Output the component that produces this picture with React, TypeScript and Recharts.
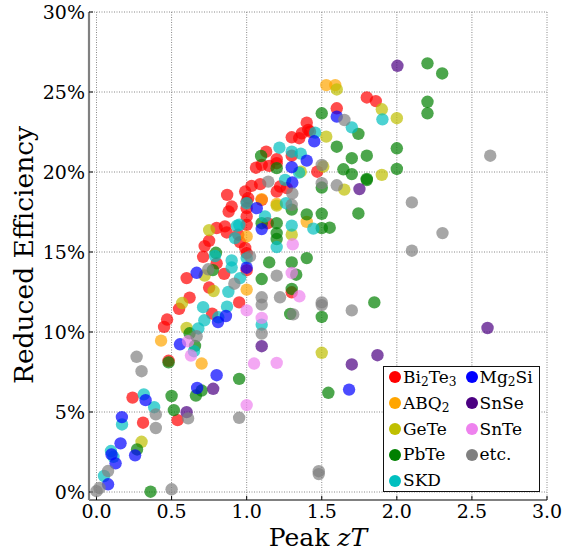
import React from 'react';
import { ScatterChart, Scatter, XAxis, YAxis, CartesianGrid, Legend, Label } from 'recharts';

const FONT = 'DejaVu Serif';

const X_TICKS = [0, 0.5, 1, 1.5, 2, 2.5, 3];
const Y_TICKS = [0, 5, 10, 15, 20, 25, 30];

type P = [number, number];

const BI2TE3: P[] = [
  [0.24, 5.9], [0.31, 4.33], [0.54, 4.49], [0.48, 8.2], [0.45, 10.32], [0.47, 10.78], [0.55, 11.45],
  [0.62, 12.15], [0.6, 13.37], [0.71, 14.7], [0.72, 15.37], [0.75, 15.7], [0.75, 12.78], [0.77, 11.15],
  [0.8, 16.5], [0.8, 14.29], [0.85, 13.63], [0.855, 16.6], [0.867, 16.22], [0.87, 18.57], [0.88, 17.53],
  [0.9, 17.84], [0.944, 16.08], [0.955, 15.62], [0.99, 15.25], [1.0, 14.93], [1.0, 13.86], [0.95, 11.85],
  [1.0, 16.7], [1.0, 17.22], [1.0, 17.74], [1.0, 18.15], [0.99, 18.78], [1.01, 18.36], [1.033, 19.13],
  [1.09, 19.24], [1.1, 18.26], [1.14, 16.8], [1.062, 20.27], [1.1, 20.44], [1.15, 20.38], [1.13, 21.27],
  [1.2, 20.8], [1.2, 20.55], [1.2, 18.78], [1.222, 19.09], [1.267, 18.99], [1.3, 21.02], [1.3, 22.17],
  [1.35, 22.11], [1.367, 22.42], [1.41, 22.63], [1.422, 22.52], [1.4, 23.08], [1.47, 20.02], [1.6, 23.98],
  [1.8, 24.66], [1.86, 24.43], [1.3, 12.48],
];

const ABQ2: P[] = [
  [0.43, 9.46], [0.7, 8.03], [1.0, 12.65], [1.0, 15.97], [1.1, 18.3], [1.4, 16.88], [1.2, 18.0],
  [1.53, 25.43], [1.59, 25.43],
];

const GETE: P[] = [
  [0.3, 3.14], [0.57, 11.81], [0.6, 10.25], [0.72, 13.53], [0.75, 16.37], [0.78, 12.56], [1.2, 17.9],
  [1.3, 16.08], [1.36, 20.02], [1.51, 20.34], [1.53, 22.21], [1.6, 25.16], [1.65, 18.9], [1.9, 23.92],
  [2.0, 23.36], [1.9, 19.82], [1.5, 8.7],
];

const PBTE: P[] = [
  [0.27, 2.66], [0.36, 0.02], [0.5, 6.0], [0.515, 5.12], [0.48, 8.1], [0.62, 9.92], [0.656, 9.13],
  [0.662, 6.03], [0.7, 6.34], [0.95, 7.07], [0.795, 14.95], [0.775, 13.87], [1.096, 21.0], [1.1, 16.8],
  [1.2, 16.8], [1.2, 16.18], [1.2, 15.81], [1.2, 20.24], [1.3, 17.65], [1.15, 14.35], [1.3, 14.35],
  [1.4, 14.62], [1.33, 13.58], [1.1, 13.31], [1.3, 12.69], [1.29, 11.13], [1.5, 10.94], [1.4, 17.35],
  [1.5, 17.39], [1.5, 16.49], [1.553, 16.52], [1.5, 19.03], [1.5, 23.67], [1.6, 21.58], [1.744, 22.38],
  [1.644, 20.17], [1.7, 19.87], [1.8, 19.57], [1.8, 19.5], [1.7, 20.86], [1.8, 21.02], [1.744, 17.41],
  [1.85, 11.85], [1.544, 6.2], [2.0, 21.48], [2.0, 20.19], [2.204, 26.79], [2.302, 26.16], [2.204, 24.39],
  [2.204, 23.67],
];

const SKD: P[] = [
  [0.05, 1.0], [0.096, 2.56], [0.113, 2.2], [0.17, 4.22], [0.315, 6.1], [0.384, 5.3], [0.649, 8.8],
  [0.678, 10.22], [0.718, 10.73], [0.71, 11.55], [0.811, 10.92], [0.869, 11.58], [0.878, 12.51],
  [0.956, 13.37], [0.9, 14.47], [0.9, 14.03], [0.789, 14.75], [0.935, 16.64], [0.922, 15.87], [0.951, 16.7],
  [1.0, 14.62], [1.0, 18.05], [1.122, 17.22], [1.1, 10.46], [1.2, 15.31], [1.218, 21.52], [1.262, 18.05],
  [1.256, 19.51], [1.3, 21.27], [1.36, 21.15], [1.3, 16.65], [1.349, 19.96], [1.444, 16.46], [1.456, 22.46],
  [1.7, 22.79], [1.904, 23.29],
];

const MG2SI: P[] = [
  [0.077, 0.48], [0.1, 2.35], [0.127, 1.79], [0.16, 3.04], [0.169, 4.68], [0.257, 2.29], [0.327, 5.74],
  [0.556, 9.23], [0.67, 6.5], [0.8, 7.3], [0.667, 13.7], [0.809, 10.62], [0.862, 11.0], [1.0, 14.02],
  [1.067, 17.74], [1.1, 16.43], [1.304, 19.34], [1.3, 20.3], [1.4, 20.71], [1.45, 21.92], [1.6, 23.46],
  [1.682, 6.4],
];

const SNSE: P[] = [
  [0.6, 4.99], [0.777, 6.45], [1.1, 9.11], [1.7, 7.97], [1.871, 8.55], [1.751, 18.93], [2.004, 26.64],
  [2.604, 10.25],
];

const SNTE: P[] = [
  [0.61, 9.42], [0.629, 8.53], [1.0, 5.43], [1.0, 11.35], [1.049, 8.03], [1.1, 10.88], [1.2, 8.07],
  [1.3, 13.69], [1.351, 12.23], [1.307, 15.48],
];

const ETC: P[] = [
  [0.0, 0.05], [0.02, 0.25], [0.077, 1.31], [0.5, 0.17], [0.267, 8.45], [0.3, 7.55], [0.395, 4.85],
  [0.395, 4.0], [0.61, 4.6], [0.95, 4.64], [0.667, 9.73], [0.744, 13.92], [0.918, 13.02], [1.022, 14.72],
  [1.1, 12.17], [1.1, 11.71], [1.1, 9.9], [1.222, 12.17], [1.2, 13.52], [1.144, 19.4], [1.304, 18.66],
  [1.3, 17.95], [1.5, 20.44], [1.5, 19.3], [1.6, 19.17], [1.651, 23.25], [1.5, 11.85], [1.5, 11.68],
  [1.48, 1.3], [1.48, 1.12], [1.7, 11.35], [2.1, 18.1], [2.1, 15.08], [2.304, 16.18], [2.622, 21.02],
  [1.31, 11.1],
];

const SERIES = [
  { key: 'bi2te3', data: BI2TE3, color: '#ff0000' },
  { key: 'abq2', data: ABQ2, color: '#ffa500' },
  { key: 'gete', data: GETE, color: '#bfbf00' },
  { key: 'pbte', data: PBTE, color: '#008000' },
  { key: 'skd', data: SKD, color: '#00bfbf' },
  { key: 'mg2si', data: MG2SI, color: '#0000ff' },
  { key: 'snse', data: SNSE, color: '#4b0082' },
  { key: 'snte', data: SNTE, color: '#ee82ee' },
  { key: 'etc', data: ETC, color: '#808080' },
];

const sub = (t: string) => (
  <span style={{ fontSize: '72%', position: 'relative', top: '0.28em' }}>{t}</span>
);

const LEGEND_COLS = [
  [
    { label: <>Bi{sub('2')}Te{sub('3')}</>, color: '#ff0000' },
    { label: <>ABQ{sub('2')}</>, color: '#ffa500' },
    { label: <>GeTe</>, color: '#bfbf00' },
    { label: <>PbTe</>, color: '#008000' },
    { label: <>SKD</>, color: '#00bfbf' },
  ],
  [
    { label: <>Mg{sub('2')}Si</>, color: '#0000ff' },
    { label: <>SnSe</>, color: '#4b0082' },
    { label: <>SnTe</>, color: '#ee82ee' },
    { label: <>etc.</>, color: '#808080' },
  ],
];

const LegendBox = () => {
  const colMarker = [10.5, 88];
  const colText = [19, 95.5];
  return (
    <div
      style={{
        position: 'relative', width: 157, height: 126, boxSizing: 'border-box',
        border: '1.3px solid #111', background: '#fff', fontFamily: FONT, fontSize: 17, color: '#000',
      }}
    >
      {LEGEND_COLS.map((col, ci) =>
        col.map((it, ri) => {
          const cy = 10.2 + ri * 25.85;
          return (
            <React.Fragment key={`${ci}-${ri}`}>
              <div
                style={{
                  position: 'absolute', left: colMarker[ci] - 6, top: cy - 6, width: 12, height: 12,
                  borderRadius: 6, background: it.color,
                }}
              />
              <div
                style={{
                  position: 'absolute', left: colText[ci], top: cy - 8.3, lineHeight: 1, whiteSpace: 'nowrap',
                }}
              >
                {it.label}
              </div>
            </React.Fragment>
          );
        })
      )}
    </div>
  );
};

const makeDot = (color: string) => (props: any) => (
  <circle cx={props.cx} cy={props.cy} r={6.2} fill={color} fillOpacity={0.7} stroke="none" />
);

const tickStyle = { fill: '#000', fontSize: 19, fontFamily: FONT };

export default function App() {
  return (
    <div style={{ position: 'absolute', left: 0, top: 0, width: 564, height: 554, background: '#fff' }}>
      <ScatterChart width={564} height={554} margin={{ top: 12, right: 17, bottom: 0, left: 0 }}>
        <CartesianGrid stroke="#888" strokeDasharray="1 1.5" strokeWidth={1} />
        <XAxis
          type="number" dataKey="x" domain={[-0.05, 3]} ticks={X_TICKS} allowDataOverflow
          tickFormatter={(v: number) => v.toFixed(1)} height={54}
          axisLine={{ stroke: '#808080', strokeWidth: 2.2 }} tickLine={{ stroke: '#000' }}
          tickSize={-4} tickMargin={9} tick={tickStyle}
        >
          <Label
            content={() => (
              <text x={318} y={545.5} textAnchor="middle" fontFamily={FONT} fontSize={25} fill="#000">
                Peak <tspan fontStyle="italic">zT</tspan>
              </text>
            )}
          />
        </XAxis>
        <XAxis
          xAxisId="top" orientation="top" type="number" domain={[-0.05, 3]} ticks={X_TICKS} allowDataOverflow
          height={0} tick={false} axisLine={{ stroke: '#000', strokeWidth: 1.2 }} tickLine={{ stroke: '#000' }}
          tickSize={-4}
        />
        <YAxis
          type="number" dataKey="y" domain={[-0.5, 30]} ticks={Y_TICKS} allowDataOverflow
          tickFormatter={(v: number) => `${v}%`} width={89}
          axisLine={{ stroke: '#808080', strokeWidth: 2.2 }} tickLine={{ stroke: '#000' }}
          tickSize={-4} tickMargin={8} tick={tickStyle}
        >
          <Label
            content={() => (
              <text
                transform="translate(32.5,255) rotate(-90)" textAnchor="middle" fontFamily={FONT}
                fontSize={26.5} fill="#000"
              >
                Reduced Efficiency
              </text>
            )}
          />
        </YAxis>
        <YAxis
          yAxisId="right" orientation="right" type="number" domain={[-0.5, 30]} ticks={Y_TICKS} allowDataOverflow
          width={0} tick={false} axisLine={{ stroke: '#000', strokeWidth: 1.2 }} tickLine={{ stroke: '#000' }}
          tickSize={-4}
        />
        {SERIES.map((s) => (
          <Scatter
            key={s.key}
            data={s.data.map(([x, y]) => ({ x, y }))}
            isAnimationActive={false}
            shape={makeDot(s.color)}
          />
        ))}
        <Legend
          layout="vertical" align="center" verticalAlign="middle"
          wrapperStyle={{ left: 383, top: 366, width: 157, height: 126 }}
          content={() => <LegendBox />}
        />
      </ScatterChart>
    </div>
  );
}
